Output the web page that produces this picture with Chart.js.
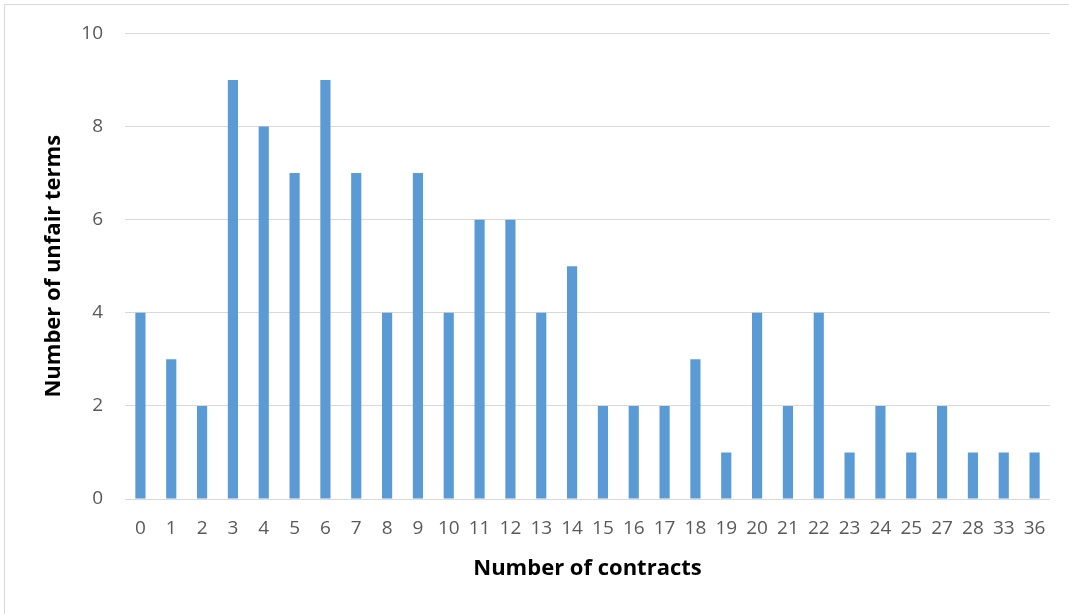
<!DOCTYPE html>
<html>
<head>
<meta charset="utf-8">
<script src="https://cdn.jsdelivr.net/npm/chart.js@4"></script>
<style>
  html, body { margin: 0; padding: 0; background: #ffffff; }
  #wrap { position: relative; width: 1069px; height: 614px; overflow: hidden; }
  #frame { position: absolute; left: 4px; top: 4px; width: 1100px; height: 700px;
           border-left: 1px solid #d9d9d9; border-top: 1px solid #d9d9d9; box-sizing: border-box; }
  canvas { position: absolute; left: 0; top: 0; }
</style>
</head>
<body>
<div id="wrap">
  <div id="frame"></div>
  <canvas id="c" width="1069" height="614"></canvas>
</div>
<script>
const categories = ["0","1","2","3","4","5","6","7","8","9","10","11","12","13","14","15","16","17","18","19","20","21","22","23","24","25","27","28","33","36"];
const unfairTerms = [4,3,2,9,8,7,9,7,4,7,4,6,6,4,5,2,2,2,3,1,4,2,4,1,2,1,2,1,1,1];
const yTicks = [0,2,4,6,8,10];
const xTitle = "Number of contracts";
const yTitle = "Number of unfair terms";

const FONT = "'Open Sans', 'Noto Sans', sans-serif";

new Chart(document.getElementById('c'), {
  type: 'bar',
  data: {
    labels: categories,
    datasets: [{
      data: unfairTerms,
      backgroundColor: '#5b9bd5',
      borderWidth: 0,
      categoryPercentage: 1.0,
      barPercentage: 0.33
    }]
  },
  options: {
    responsive: false,
    animation: false,
    layout: { padding: { top: 33, right: 19, bottom: 0, left: 0 } },
    plugins: { legend: { display: false }, tooltip: { enabled: false } },
    scales: {
      x: {
        grid: { display: false, drawTicks: false },
        border: { display: false },
        ticks: { color: '#595959', font: { family: FONT, size: 19 }, padding: 18, maxRotation: 0, autoSkip: false },
        title: { display: true, text: xTitle, color: '#000000', font: { family: FONT, size: 22, weight: 'bold' }, padding: { top: 0, bottom: 32 } },
        afterFit: (s) => { s.height = 115; }
      },
      y: {
        min: 0, max: 10,
        afterBuildTicks: (s) => { s.ticks = yTicks.map(v => ({ value: v })); },
        grid: { color: '#d9d9d9', lineWidth: 1, drawTicks: false },
        border: { display: false },
        ticks: { color: '#595959', font: { family: FONT, size: 19 }, padding: 22 },
        title: { display: true, text: yTitle, color: '#000000', font: { family: FONT, size: 22, weight: 'bold' }, padding: { top: 41, bottom: 0 } },
        afterFit: (s) => { s.width = 125; }
      }
    }
  }
});
</script>
</body>
</html>
